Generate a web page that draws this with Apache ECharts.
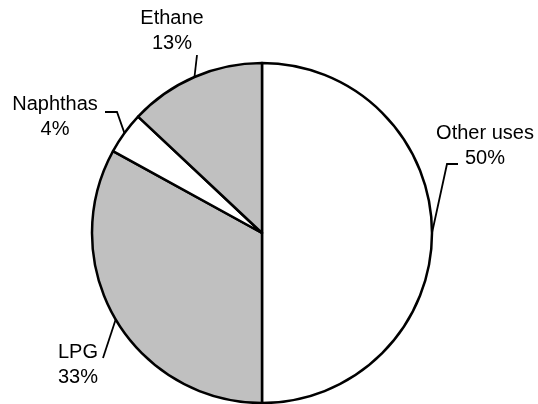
<!DOCTYPE html>
<html>
<head>
<meta charset="utf-8">
<script src="https://cdn.jsdelivr.net/npm/echarts@6/dist/echarts.min.js"></script>
<style>
html,body{margin:0;padding:0;background:#fff;}
#chart{width:538px;height:404px;}
</style>
</head>
<body>
<div id="chart"></div>
<script>
// Data
var categories = ['Other uses', 'LPG', 'Naphthas', 'Ethane'];
var shares = [50, 33, 4, 13];
var sliceColors = ['#ffffff', '#c0c0c0', '#ffffff', '#c0c0c0'];

// Label placement (label centre and leader-line offsets relative to it)
var labelPlacement = [
  { x: 485, y: 146, line: [[-38, 18], [-27, 18]] },
  { x: 78,  y: 365, line: [[25, -7]] },
  { x: 55,  y: 117, line: [[62, -5], [50, -5]] },
  { x: 172, y: 31,  line: [[25, 24]] }
];

var chart = echarts.init(document.getElementById('chart'), null, { renderer: 'canvas' });

var pieData = categories.map(function (c, i) {
  return { name: c, value: shares[i], itemStyle: { color: sliceColors[i] } };
});

chart.setOption({
  animation: false,
  backgroundColor: '#ffffff',
  series: [{
    type: 'pie',
    center: [262, 233],
    radius: 170,
    startAngle: 90,
    clockwise: true,
    avoidLabelOverlap: false,
    silent: true,
    data: pieData,
    itemStyle: { borderColor: '#000000', borderWidth: 2.5 },
    label: {
      show: true,
      position: 'outside',
      formatter: '{b}\n{d}%',
      fontFamily: 'Liberation Sans, Arial, sans-serif',
      fontSize: 20,
      lineHeight: 25,
      color: '#000000'
    },
    labelLine: {
      show: true,
      length: 10,
      length2: 10,
      lineStyle: { color: '#000000', width: 1.8 }
    },
    labelLayout: function (p) {
      var L = labelPlacement[p.dataIndex];
      var out = { x: L.x, y: L.y, align: 'center', verticalAlign: 'middle' };
      if (p.labelLinePoints && p.labelLinePoints.length) {
        var a = p.labelLinePoints[0];
        var pts = [[a[0], a[1]]];
        L.line.forEach(function (o) { pts.push([L.x + o[0], L.y + o[1]]); });
        out.labelLinePoints = pts;
      }
      return out;
    }
  }]
});
</script>
</body>
</html>
